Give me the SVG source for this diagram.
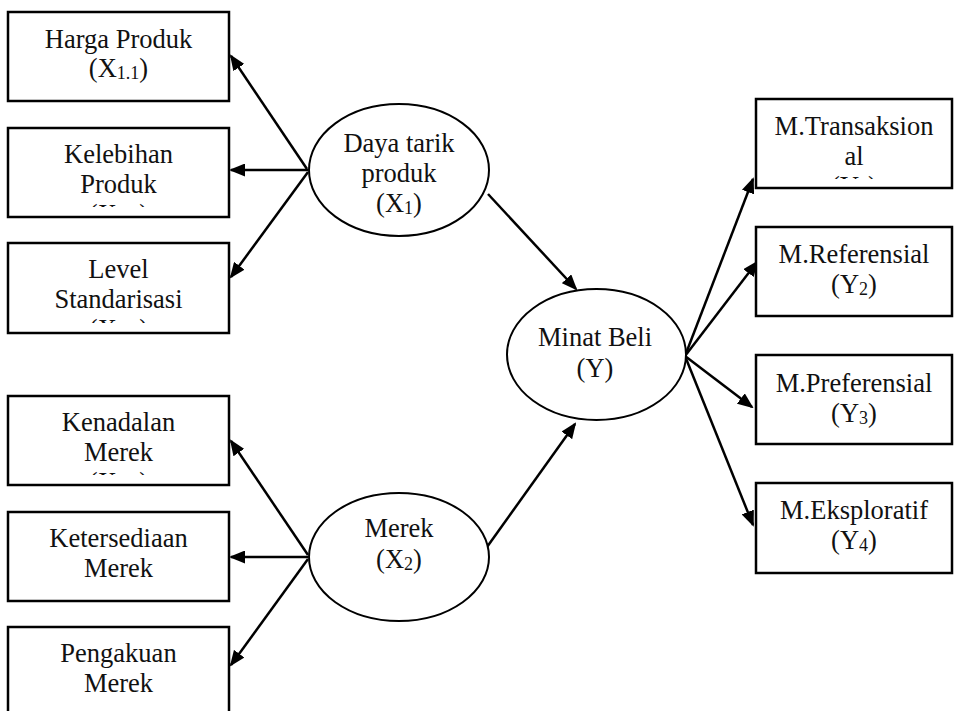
<svg xmlns="http://www.w3.org/2000/svg" width="954" height="711" viewBox="0 0 954 711">
<style>
.box{fill:#fff;stroke:#000;stroke-width:2.5}
.ell{fill:#fff;stroke:#000;stroke-width:2}
.t{font-family:"Liberation Serif","Times New Roman",serif;font-size:26.5px;fill:#111;text-anchor:middle}
.s{font-size:18px}
.c{stroke:#000;stroke-width:2.5;fill:none;marker-end:url(#ah)}
</style>
<defs>
<marker id="ah" markerUnits="userSpaceOnUse" markerWidth="16" markerHeight="13" refX="14" refY="6.5" orient="auto">
<path d="M0,0 L16,6.5 L0,13 z" fill="#000"/>
</marker>
<clipPath id="cb2"><rect x="8" y="128" width="221" height="79"/></clipPath>
<clipPath id="cb3"><rect x="8" y="243" width="221" height="80"/></clipPath>
<clipPath id="cb4"><rect x="8" y="396" width="221" height="79"/></clipPath>
<clipPath id="cr1"><rect x="756" y="99" width="196" height="80"/></clipPath>
</defs>
<rect width="954" height="711" fill="#fff"/>

<g id="connectors">
<path class="c" d="M307,169 L231,56"/>
<path class="c" d="M308,170 L231,170"/>
<path class="c" d="M308,172 L231,277"/>
<path class="c" d="M488,194 L576,289"/>
<path class="c" d="M487,547 L575,424"/>
<path class="c" d="M308,555 L231,441"/>
<path class="c" d="M308,557 L231,557"/>
<path class="c" d="M308,559 L231,665"/>
<path class="c" d="M685,356 L753,179"/>
<path class="c" d="M685,356 L757,262"/>
<path class="c" d="M685,356 L752,407"/>
<path class="c" d="M685,356 L753,525"/>
</g>

<g id="n-harga">
<rect class="box" x="8" y="12" width="221" height="89"/>
<text class="t" x="118.5" y="48">Harga Produk</text>
<text class="t" x="118.5" y="77">(X<tspan class="s" dy="2">1.1</tspan><tspan dy="-2">)</tspan></text>
</g>
<g id="n-kelebihan">
<rect class="box" x="8" y="128" width="221" height="89"/>
<g clip-path="url(#cb2)">
<text class="t" x="118.5" y="163">Kelebihan</text>
<text class="t" x="118.5" y="193">Produk</text>
<text class="t" x="118.5" y="223">(X<tspan class="s" dy="2">1.2</tspan><tspan dy="-2">)</tspan></text>
</g>
</g>
<g id="n-level">
<rect class="box" x="8" y="243" width="221" height="90"/>
<g clip-path="url(#cb3)">
<text class="t" x="118.5" y="278">Level</text>
<text class="t" x="118.5" y="308">Standarisasi</text>
<text class="t" x="118.5" y="338">(X<tspan class="s" dy="2">1.3</tspan><tspan dy="-2">)</tspan></text>
</g>
</g>
<g id="n-kenadalan">
<rect class="box" x="8" y="396" width="221" height="89"/>
<g clip-path="url(#cb4)">
<text class="t" x="118.5" y="431">Kenadalan</text>
<text class="t" x="118.5" y="461">Merek</text>
<text class="t" x="118.5" y="491">(X<tspan class="s" dy="2">2.1</tspan><tspan dy="-2">)</tspan></text>
</g>
</g>
<g id="n-ketersediaan">
<rect class="box" x="8" y="512" width="221" height="89"/>
<text class="t" x="118.5" y="547">Ketersediaan</text>
<text class="t" x="118.5" y="577">Merek</text>
</g>
<g id="n-pengakuan">
<rect class="box" x="8" y="627" width="221" height="89"/>
<text class="t" x="118.5" y="662">Pengakuan</text>
<text class="t" x="118.5" y="692">Merek</text>
</g>

<g id="n-daya">
<ellipse class="ell" cx="399" cy="170" rx="90" ry="66"/>
<text class="t" x="399" y="152">Daya tarik</text>
<text class="t" x="399" y="182">produk</text>
<text class="t" x="399" y="212">(X<tspan class="s" dy="2">1</tspan><tspan dy="-2">)</tspan></text>
</g>
<g id="n-merek">
<ellipse class="ell" cx="399" cy="557" rx="90" ry="64"/>
<text class="t" x="399" y="537">Merek</text>
<text class="t" x="399" y="568">(X<tspan class="s" dy="2">2</tspan><tspan dy="-2">)</tspan></text>
</g>
<g id="n-minat">
<ellipse class="ell" cx="596.5" cy="354.5" rx="89.5" ry="65.5"/>
<text class="t" x="595" y="346">Minat Beli</text>
<text class="t" x="595" y="377">(Y)</text>
</g>

<g id="n-transaksional">
<rect class="box" x="756" y="99" width="196" height="89"/>
<g clip-path="url(#cr1)">
<text class="t" x="854" y="135">M.Transaksion</text>
<text class="t" x="854" y="165">al</text>
<text class="t" x="854" y="195">(Y<tspan class="s" dy="2">1</tspan><tspan dy="-2">)</tspan></text>
</g>
</g>
<g id="n-referensial">
<rect class="box" x="756" y="227" width="196" height="89"/>
<text class="t" x="854" y="263">M.Referensial</text>
<text class="t" x="854" y="293">(Y<tspan class="s" dy="2">2</tspan><tspan dy="-2">)</tspan></text>
</g>
<g id="n-preferensial">
<rect class="box" x="756" y="355" width="196" height="89"/>
<text class="t" x="854" y="392">M.Preferensial</text>
<text class="t" x="854" y="422">(Y<tspan class="s" dy="2">3</tspan><tspan dy="-2">)</tspan></text>
</g>
<g id="n-eksploratif">
<rect class="box" x="756" y="483" width="196" height="90"/>
<text class="t" x="854" y="519">M.Eksploratif</text>
<text class="t" x="854" y="549">(Y<tspan class="s" dy="2">4</tspan><tspan dy="-2">)</tspan></text>
</g>
</svg>
